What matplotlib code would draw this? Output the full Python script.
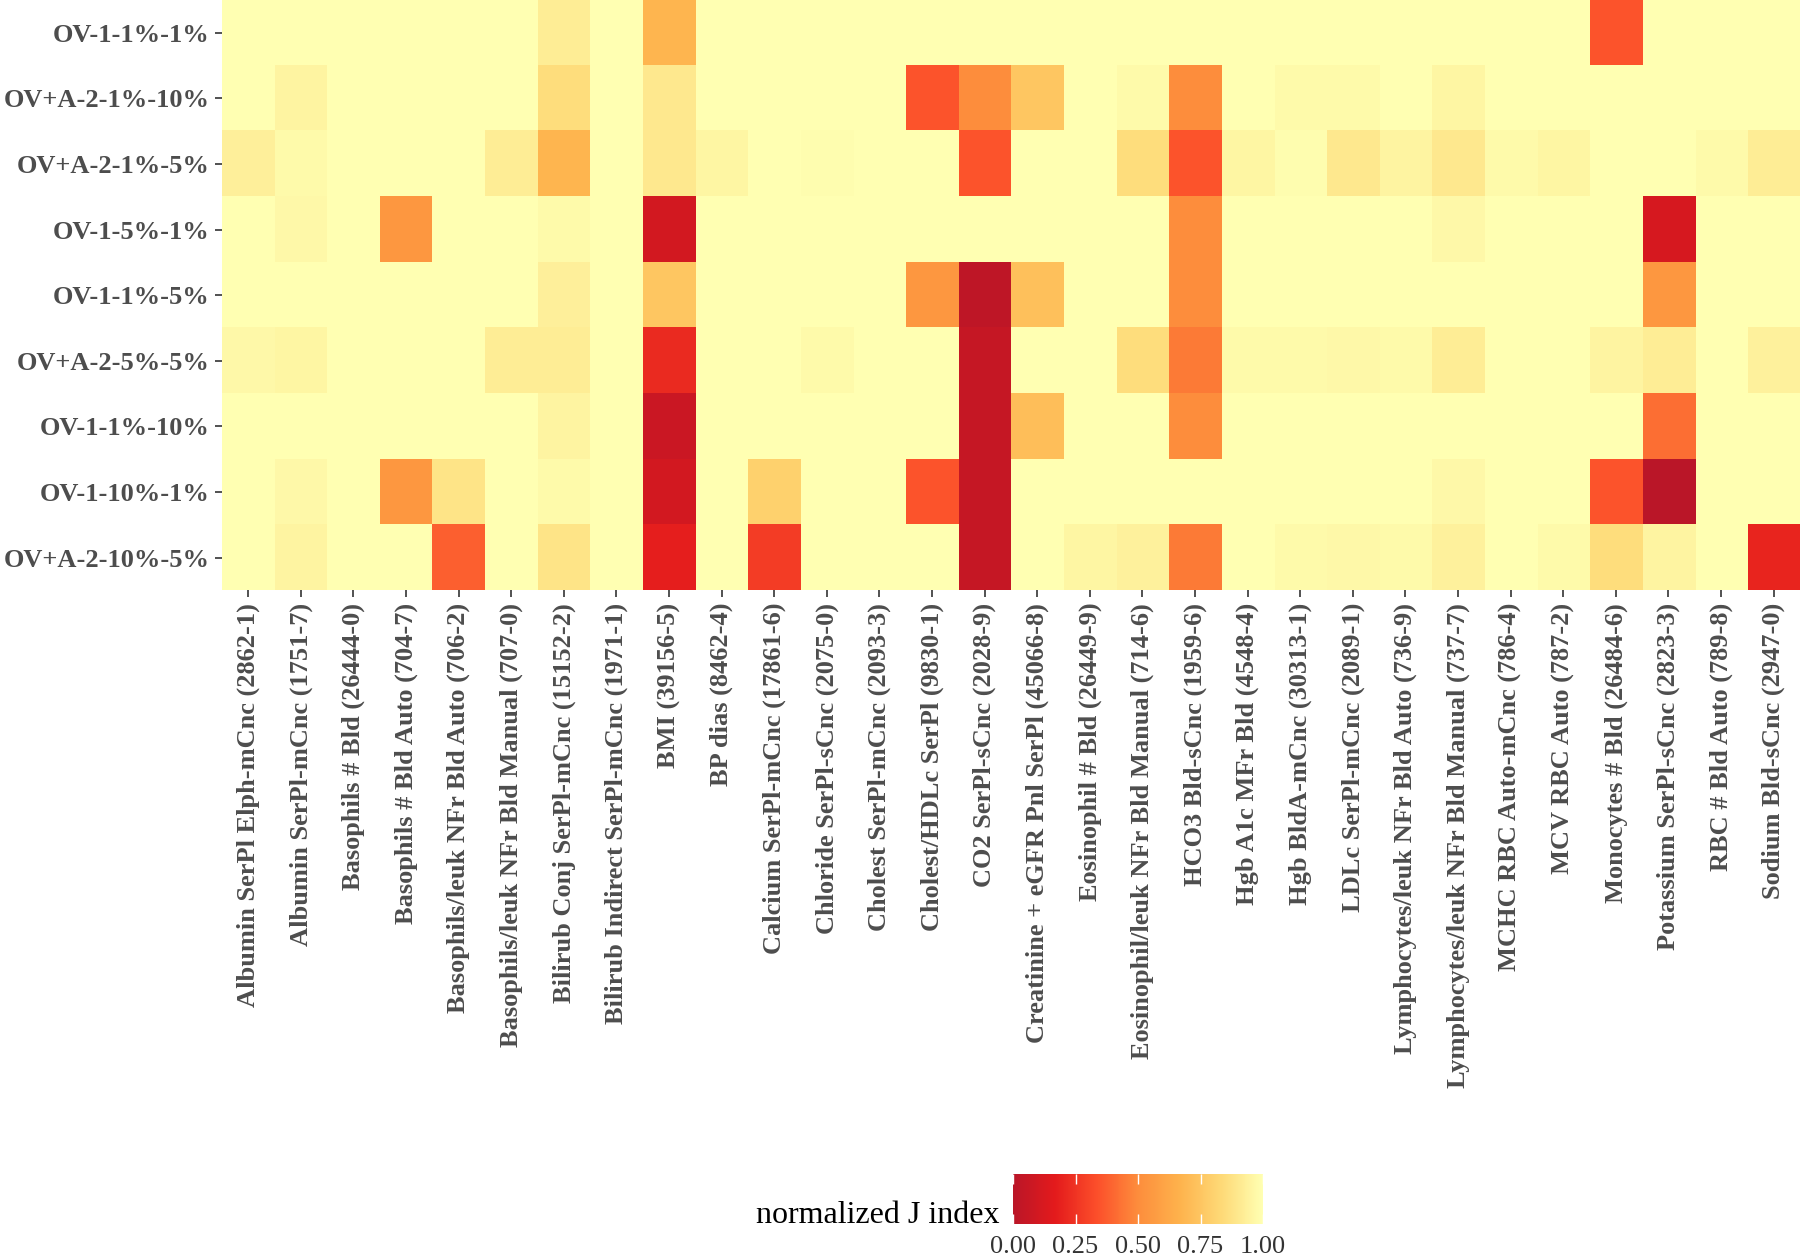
import numpy as np
import matplotlib
matplotlib.use("Agg")
import matplotlib.pyplot as plt
from matplotlib.colors import LinearSegmentedColormap

plt.rcParams['font.family'] = ['Liberation Serif', 'DejaVu Serif']

# 列：检验项目
tests = [
    "Albumin SerPl Elph-mCnc (2862-1)", "Albumin SerPl-mCnc (1751-7)",
    "Basophils # Bld (26444-0)", "Basophils # Bld Auto (704-7)",
    "Basophils/leuk NFr Bld Auto (706-2)", "Basophils/leuk NFr Bld Manual (707-0)",
    "Bilirub Conj SerPl-mCnc (15152-2)", "Bilirub Indirect SerPl-mCnc (1971-1)",
    "BMI (39156-5)", "BP dias (8462-4)", "Calcium SerPl-mCnc (17861-6)",
    "Chloride SerPl-sCnc (2075-0)", "Cholest SerPl-mCnc (2093-3)",
    "Cholest/HDLc SerPl (9830-1)", "CO2 SerPl-sCnc (2028-9)",
    "Creatinine + eGFR Pnl SerPl (45066-8)", "Eosinophil # Bld (26449-9)",
    "Eosinophil/leuk NFr Bld Manual (714-6)", "HCO3 Bld-sCnc (1959-6)",
    "Hgb A1c MFr Bld (4548-4)", "Hgb BldA-mCnc (30313-1)", "LDLc SerPl-mCnc (2089-1)",
    "Lymphocytes/leuk NFr Bld Auto (736-9)", "Lymphocytes/leuk NFr Bld Manual (737-7)",
    "MCHC RBC Auto-mCnc (786-4)", "MCV RBC Auto (787-2)", "Monocytes # Bld (26484-6)",
    "Potassium SerPl-sCnc (2823-3)", "RBC # Bld Auto (789-8)", "Sodium Bld-sCnc (2947-0)",
]

# 行：配置（从上到下）
configs = ["OV-1-1%-1%", "OV+A-2-1%-10%", "OV+A-2-1%-5%", "OV-1-5%-1%", "OV-1-1%-5%",
           "OV+A-2-5%-5%", "OV-1-1%-10%", "OV-1-10%-1%", "OV+A-2-10%-5%"]

# normalized J index，每行 30 个值
ov_1_1_1 = [1, 1, 1, 1, 1, 1, 0.92, 1, 0.68, 1, 1, 1, 1, 1, 1,
            1, 1, 1, 1, 1, 1, 1, 1, 1, 1, 1, 0.35, 1, 1, 1]
ova_2_1_10 = [1, 0.95, 1, 1, 1, 1, 0.85, 1, 0.9, 1, 1, 1, 1, 0.35, 0.5,
              0.75, 1, 0.98, 0.5, 1, 0.98, 0.98, 1, 0.96, 1, 1, 1, 1, 1, 1]
ova_2_1_5 = [0.93, 0.98, 1, 1, 1, 0.92, 0.68, 1, 0.9, 0.96, 1, 0.99, 1, 1, 0.35,
             1, 1, 0.85, 0.35, 0.96, 0.99, 0.9, 0.95, 0.9, 0.98, 0.96, 1, 1, 0.98, 0.92]
ov_1_5_1 = [1, 0.97, 1, 0.55, 1, 1, 0.98, 1, 0.1, 1, 1, 1, 1, 1, 1,
            1, 1, 1, 0.5, 1, 1, 1, 1, 0.97, 1, 1, 1, 0.12, 1, 1]
ov_1_1_5 = [1, 1, 1, 1, 1, 1, 0.93, 1, 0.75, 1, 1, 1, 1, 0.55, 0.02,
            0.73, 1, 1, 0.5, 1, 1, 1, 1, 1, 1, 1, 1, 0.55, 1, 1]
ova_2_5_5 = [0.97, 0.96, 1, 1, 1, 0.92, 0.92, 1, 0.22, 1, 1, 0.98, 1, 1, 0.05,
             1, 1, 0.85, 0.45, 0.98, 0.98, 0.97, 0.98, 0.92, 1, 1, 0.95, 0.92, 1, 0.94]
ov_1_1_10 = [1, 1, 1, 1, 1, 1, 0.95, 1, 0.07, 1, 1, 1, 1, 1, 0.05,
             0.72, 1, 1, 0.5, 1, 1, 1, 1, 1, 1, 1, 1, 0.42, 1, 1]
ov_1_10_1 = [1, 0.97, 1, 0.55, 0.88, 1, 0.98, 1, 0.1, 1, 0.8, 1, 1, 0.35, 0.05,
             1, 1, 1, 1, 1, 1, 1, 1, 0.97, 1, 1, 0.35, 0.0, 1, 1]
ova_2_10_5 = [1, 0.95, 1, 1, 0.38, 1, 0.88, 1, 0.18, 1, 0.28, 1, 1, 1, 0.05,
              1, 0.96, 0.94, 0.45, 1, 0.98, 0.97, 0.98, 0.94, 1, 0.98, 0.85, 0.95, 1, 0.2]

values = np.array([ov_1_1_1, ova_2_1_10, ova_2_1_5, ov_1_5_1, ov_1_1_5,
                   ova_2_5_5, ov_1_1_10, ov_1_10_1, ova_2_10_5])

# YlOrRd 反向
cmap = LinearSegmentedColormap.from_list(
    "jidx", ["#BA1628", "#E31A1C", "#FC4E2A", "#FD8D3C", "#FEB24C", "#FED976", "#FFFFB2"])

fig = plt.figure(figsize=(18, 12.56), dpi=100)
ax = fig.add_axes([0.1233, 0.530, 0.8767, 0.470])

im = ax.imshow(values, cmap=cmap, vmin=0, vmax=1, aspect='auto', interpolation='nearest')

ax.set_xticks(range(len(tests)))
ax.set_xticklabels(tests, rotation=90, ha='center', va='top')
ax.set_yticks(range(len(configs)))
ax.set_yticklabels(configs)
for lab in ax.get_xticklabels() + ax.get_yticklabels():
    lab.set_fontweight('bold')
    lab.set_color('#4D4D4D')
    lab.set_fontsize(19)
ax.tick_params(axis='both', length=5, width=1.2, color='#333333', pad=4)
for s in ax.spines.values():
    s.set_visible(False)

cax = fig.add_axes([0.5628, 0.0255, 0.1389, 0.0398])
cb = fig.colorbar(im, cax=cax, orientation='horizontal')
cb.outline.set_visible(False)
cb.set_ticks([0, 0.25, 0.5, 0.75, 1.0])
cb.set_ticklabels(["0.00", "0.25", "0.50", "0.75", "1.00"])
cax.tick_params(axis='x', direction='in', length=7, width=1, color='white',
                top=True, bottom=True, labelsize=19, labelcolor='#333333', pad=9)
fig.text(0.555, 0.0326, "normalized J index", ha='right', va='center', fontsize=23, color='black')

fig.savefig("out.png", dpi=100)
